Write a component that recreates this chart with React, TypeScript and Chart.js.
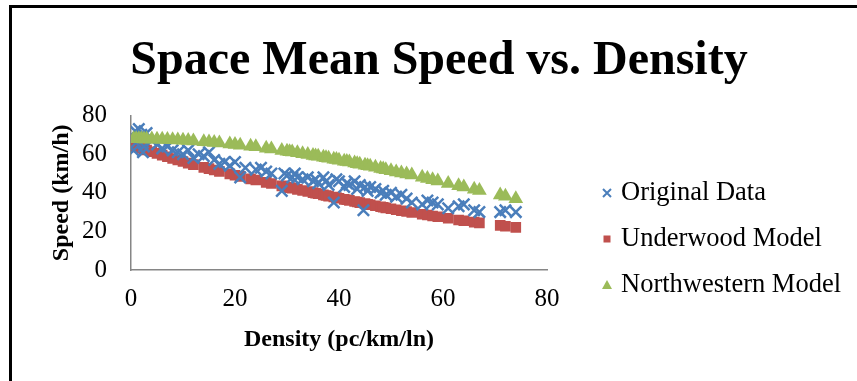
import { useEffect, useRef } from "react";
import { Chart, registerables } from "chart.js";

Chart.register(...registerables);

const chartTitle = "Space Mean Speed vs. Density";
const xAxisTitle = "Density (pc/km/ln)";
const yAxisTitle = "Speed (km/h)";
const seriesNames = ["Original Data", "Underwood Model", "Northwestern Model"];
const xTickValues = [0, 20, 40, 60, 80];
const yTickValues = [0, 20, 40, 60, 80];

const originalDensity = [
  0.5, 0.8, 1, 1.5, 2, 2.3, 2.5, 3, 4, 5, 6, 7, 8, 9, 10, 11, 12, 13, 14, 15, 16, 17, 18, 19, 20, 21, 22, 24, 25, 26,
  27, 29, 29.5, 30, 31, 31.5, 32, 33, 34, 35, 35.5, 36, 37, 37.5, 38, 39, 39.5, 40, 41, 41.5, 42, 43, 43.5, 44, 44.7,
  45, 45.5, 46, 47, 48, 48.5, 49, 50, 51, 52, 53, 54, 56, 57, 58, 59, 61, 63, 64, 66, 67, 71, 72, 74,
];
const originalSpeed = [
  62, 72, 66, 73, 70, 61, 64, 71, 67, 65, 63, 64, 62, 61, 60, 62, 58, 60, 59, 61, 57, 55, 56, 54, 56, 48, 53, 52, 53, 51,
  50, 41, 50, 49, 48, 50, 48, 47, 48, 46, 47, 45, 48, 46, 44, 35, 47, 46, 43, 45, 44, 46, 42, 44, 31,
  43, 41, 43, 42, 40, 41, 39, 40, 38, 39, 37, 35, 34, 36, 35, 34, 32, 33, 34, 31, 30, 30, 31, 30,
];

const modelDensity = [
  0.5, 1, 1.5, 2, 2.5, 3, 4, 5, 6, 7, 8, 9, 10, 11, 12, 14, 15, 16, 17, 19, 20, 21, 23, 24, 26, 27, 29, 30, 30.5, 31,
  32, 33, 34, 35, 35.5, 36, 37, 37.5, 38, 39, 39.5, 40, 41, 41.5, 42, 43, 43.5, 44, 45, 45.5, 46, 47, 48, 48.5, 49, 50,
  51, 52, 53, 54, 56, 57, 58, 59, 61, 63, 64, 66, 67, 71, 72, 74,
];
const underwoodSpeed = [
  64.5, 64.1, 63.6, 63.1, 62.7, 62.2, 61.3, 60.4, 59.5, 58.7, 57.8, 57.0, 56.2, 55.4, 54.6, 53.2, 52.5, 51.8, 51.1, 49.8,
  49.1, 48.5, 47.2, 46.6, 45.4, 44.8, 43.6, 43.0, 42.7, 42.4, 41.8, 41.2, 40.7, 40.1, 39.8, 39.5, 38.9, 38.6, 38.3, 37.8,
  37.5, 37.2, 36.6, 36.4, 36.1, 35.5, 35.2, 34.9, 34.4, 34.1, 33.8, 33.3, 32.8, 32.5, 32.2, 31.7, 31.2, 30.7, 30.3, 29.8,
  28.9, 28.5, 28.0, 27.6, 26.8, 25.9, 25.5, 24.8, 24.4, 23.1, 22.7, 22.1,
];
const northwesternSpeed = [
  68.0, 68.0, 68.0, 68.0, 67.9, 67.9, 67.9, 67.8, 67.7, 67.6, 67.5, 67.4, 67.2, 67.1, 66.9, 66.5, 66.3, 66.1, 65.8, 65.3,
  65.0, 64.7, 64.1, 63.8, 63.1, 62.7, 61.9, 61.5, 61.3, 61.1, 60.7, 60.2, 59.8, 59.3, 59.1, 58.9, 58.4, 58.1, 57.9, 57.4,
  57.2, 56.9, 56.4, 56.2, 55.9, 55.4, 55.1, 54.8, 54.3, 54.0, 53.7, 53.2, 52.6, 52.3, 52.0, 51.4, 50.8, 50.3, 49.7, 49.2,
  48.0, 47.4, 46.7, 46.1, 44.8, 43.6, 43.0, 41.8, 41.2, 38.8, 38.2, 36.9,
];

const BLUE = "#4A7EBB";
const RED = "#C0504D";
const GREEN = "#9BBB59";
const SERIF = "'Liberation Serif', 'Times New Roman', serif";

const toPoints = (xs: number[], ys: number[]) => xs.map((x, i) => ({ x, y: ys[i] }));

const sideLegend = {
  id: "sideLegend",
  afterDraw(chart: any, _args: any, opts: any) {
    const ctx = chart.ctx as CanvasRenderingContext2D;
    ctx.save();
    chart.data.datasets.forEach((ds: any, i: number) => {
      const y = opts.rows[i];
      const mx = opts.markerX;
      ctx.fillStyle = ds.backgroundColor;
      ctx.strokeStyle = ds.borderColor;
      if (ds.pointStyle === "crossRot") {
        ctx.lineWidth = 2;
        ctx.beginPath();
        ctx.moveTo(mx - 4, y - 4);
        ctx.lineTo(mx + 4, y + 4);
        ctx.moveTo(mx + 4, y - 4);
        ctx.lineTo(mx - 4, y + 4);
        ctx.stroke();
      } else if (ds.pointStyle === "rect") {
        ctx.fillRect(mx - 3.5, y - 3.5, 7, 7);
      } else {
        ctx.beginPath();
        ctx.moveTo(mx, y - 5);
        ctx.lineTo(mx + 5, y + 4);
        ctx.lineTo(mx - 5, y + 4);
        ctx.closePath();
        ctx.fill();
      }
      ctx.fillStyle = "#000";
      ctx.font = `${opts.fontSize}px ${SERIF}`;
      ctx.textBaseline = "middle";
      ctx.textAlign = "left";
      ctx.fillText(ds.label, opts.textX, y);
    });
    ctx.restore();
  },
};

export default function App() {
  const canvasRef = useRef<HTMLCanvasElement | null>(null);

  useEffect(() => {
    const canvas = canvasRef.current;
    if (!canvas) return;
    const chart = new Chart(canvas, {
      type: "scatter",
      data: {
        datasets: [
          {
            label: seriesNames[0],
            data: toPoints(originalDensity, originalSpeed),
            pointStyle: "crossRot",
            pointRadius: 8,
            pointBorderWidth: 2.5,
            borderColor: BLUE,
            backgroundColor: BLUE,
            order: 1,
          },
          {
            label: seriesNames[1],
            data: toPoints(modelDensity, underwoodSpeed),
            pointStyle: "rect",
            pointRadius: 7.5,
            pointBorderWidth: 0,
            borderColor: RED,
            backgroundColor: RED,
            order: 2,
          },
          {
            label: seriesNames[2],
            data: toPoints(modelDensity, northwesternSpeed),
            pointStyle: "triangle",
            pointRadius: 8.5,
            pointBorderWidth: 0,
            borderColor: GREEN,
            backgroundColor: GREEN,
            order: 0,
          },
        ],
      },
      options: {
        animation: false,
        responsive: false,
        maintainAspectRatio: false,
        layout: { padding: { left: 21, right: 0, top: 0, bottom: 0 } },
        plugins: {
          legend: { display: false },
          tooltip: { enabled: false },
          title: {
            display: true,
            text: chartTitle,
            color: "#000",
            font: { family: SERIF, size: 48, weight: "bold" },
            padding: { top: 33, bottom: 25 },
          },
          sideLegend: { markerX: 607, textX: 621, rows: [193, 239, 285], fontSize: 26.5 },
        } as any,
        scales: {
          x: {
            type: "linear",
            min: 0,
            max: 80,
            afterBuildTicks: (s: any) => {
              s.ticks = xTickValues.map((v) => ({ value: v }));
            },
            afterFit: (s: any) => {
              s.height = 111;
            },
            grid: { display: false, drawTicks: false },
            border: { display: true, color: "#868686", width: 1.5 },
            ticks: { color: "#000", font: { family: SERIF, size: 25 }, padding: 14 },
            title: {
              display: true,
              text: xAxisTitle,
              color: "#000",
              font: { family: SERIF, size: 24, weight: "bold" },
              padding: { top: 0, bottom: 26.6 },
            },
          },
          y: {
            type: "linear",
            min: 0,
            max: 80,
            afterBuildTicks: (s: any) => {
              s.ticks = yTickValues.map((v) => ({ value: v }));
            },
            afterFit: (s: any) => {
              s.width = 110;
            },
            grid: { display: false, drawTicks: false },
            border: { display: true, color: "#868686", width: 1.5 },
            ticks: { color: "#000", font: { family: SERIF, size: 25 }, padding: 24 },
            title: {
              display: true,
              text: yAxisTitle,
              color: "#000",
              font: { family: SERIF, size: 24, weight: "bold" },
              padding: { top: 26.6, bottom: 0 },
            },
          },
          legendSpace: {
            type: "linear",
            position: "right",
            min: 0,
            max: 1,
            display: true,
            afterFit: (s: any) => {
              s.width = 310;
            },
            grid: { display: false, drawTicks: false },
            border: { display: false },
            ticks: { display: false },
          },
        },
      },
      plugins: [sideLegend],
    });
    return () => chart.destroy();
  }, []);

  return (
    <div
      style={{
        position: "fixed",
        left: 0,
        top: 0,
        width: 857,
        height: 381,
        overflow: "hidden",
        background: "#fff",
      }}
    >
      <canvas ref={canvasRef} width={857} height={381} style={{ display: "block" }} />
      <div
        style={{
          position: "absolute",
          left: 9,
          top: 5,
          right: -10,
          bottom: -10,
          borderLeft: "3px solid #000",
          borderTop: "3px solid #000",
          pointerEvents: "none",
        }}
      />
    </div>
  );
}
